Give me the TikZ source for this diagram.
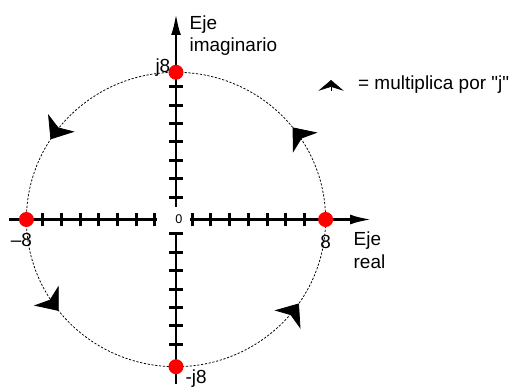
\documentclass[tikz,border=0pt]{standalone}
\usepackage{fontspec}
\setmainfont{Liberation Sans}[Ligatures=TeXOff]
\usetikzlibrary{arrows.meta,positioning,decorations.markings}

\tikzset{
    jtip/.tip={Stealth[length=18pt,width=29pt,inset=5pt]}
}

\begin{document}
\begin{tikzpicture}[
    x=0.6cm,
    y=0.5904cm,
    font=\fontsize{17.3}{20.5}\selectfont,
    axis/.style={
        draw, line width=2.7pt
    },
    axisarrow/.style={
        axis, -{Latex[length=20pt,width=9pt]}
    },
    tickmark/.style={
        line width=2.7pt
    },
    point/.style={
        circle,
        fill=red,
        inner sep=0pt,
        minimum size=13.7pt
    },
    lbl/.style={
        inner sep=0pt
    },
    orbit/.style={
        draw,
        line width=0.7pt,
        dash pattern=on 2pt off 1.5pt,
        postaction={decorate},
        decoration={markings,
            mark=at position 0.107 with {\arrow{jtip}},
            mark=at position 0.409 with {\arrow{jtip}},
            mark=at position 0.606 with {\arrow{jtip}},
            mark=at position 0.904 with {\arrow{jtip}}
        }
    }
]
\useasboundingbox (-9.412,-9.212) rectangle (17.968,11.929);

% Axes
\coordinate (xw) at (-8.93,0);
\coordinate (xwend) at (-1.03,0);
\coordinate (xestart) at (0.75,0);
\coordinate (xe) at (10.48,0);
\coordinate (ynstart) at (0,0.68);
\coordinate (yn) at (0,11.22);
\coordinate (ysstart) at (0,-0.73);
\coordinate (ys) at (0,-8.94);

\draw [axis] (xw) -- (xwend);
\draw [axisarrow] (xestart) -- (xe);
\draw [axisarrow] (ynstart) -- (yn);
\draw [axis] (ysstart) -- (ys);

\foreach \k in {-7,...,-1,1,2,...,7} {
    \draw [tickmark] (\k-0.13,-0.38) -- (\k-0.13,0.38);
    \draw [tickmark] (-0.37,\k+0.22) -- (0.37,\k+0.22);
}

% Circle
\draw [orbit] (0,0) circle (8);

% Nodes
\node [point] (p8) at (8,0) {};
\node [point] (m8) at (-8,0) {};
\node [point] (j8) at (0,8) {};
\node [point] (mj8) at (0,-8) {};

\node [lbl, below=7.3pt of p8] (l8) {8};
\node [lbl, below=5.5pt of m8, xshift=-4.5pt] (lm8) {–8};
\node [lbl, anchor=base east] (lj8) at ([xshift=2pt]j8.west) {j8};
\node [lbl, anchor=north west] (lmj8) at ([xshift=3.5pt,yshift=2.5pt]mj8.south east) {-j8};
\node [lbl, font=\fontsize{11.5}{13}\selectfont] (zero) at (0.16,0) {0};

\node [lbl, anchor=north west, align=left] (imag) at (0.72,11.11) {Eje\\imaginario};
\node [lbl, anchor=north west, align=left] (real) at (9.49,-0.68) {Eje\\real};

% Key
\coordinate (keyback) at (8.29,7.01);
\coordinate (keytip) at (8.29,7.58);
\draw [line width=0.4pt, -{Stealth[length=9.8pt,width=23pt,inset=3.6pt]}] (keyback) -- (keytip);
\node [lbl, anchor=base west] (key) at (9.73,7.07) {= multiplica por "j"};

\end{tikzpicture}
\end{document}
